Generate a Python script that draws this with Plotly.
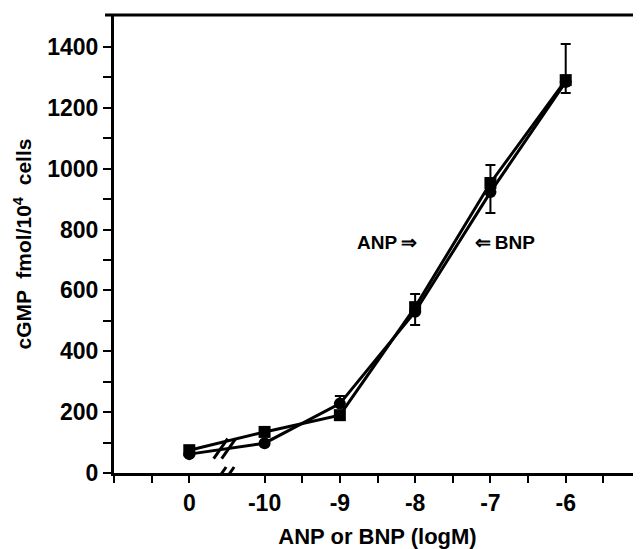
import plotly.graph_objects as go

# positions on the broken axis: 1 -> "0" (no peptide), 2..6 -> -10..-6 logM
x_pos = [1, 2, 3, 4, 5, 6]
tick_labels = ["0", "-10", "-9", "-8", "-7", "-6"]

anp_vals = [75, 135, 190, 545, 953, 1291]
anp_err_plus = [0, 0, 0, 43, 59, 119]
anp_err_minus = [0, 0, 0, 0, 0, 0]

bnp_vals = [62, 98, 228, 530, 923, 1285]
bnp_err_plus = [0, 0, 25, 0, 0, 0]
bnp_err_minus = [0, 0, 0, 44, 69, 36]

FONT = "Liberation Sans"

fig = go.Figure()
fig.add_trace(go.Scatter(
    x=x_pos, y=anp_vals, mode="lines+markers", name="ANP",
    line=dict(color="black", width=3),
    marker=dict(symbol="square", size=12, color="black"),
    error_y=dict(type="data", symmetric=False, array=anp_err_plus,
                 arrayminus=anp_err_minus, color="black", thickness=2, width=5),
))
fig.add_trace(go.Scatter(
    x=x_pos, y=bnp_vals, mode="lines+markers", name="BNP",
    line=dict(color="black", width=3),
    marker=dict(symbol="circle", size=12, color="black"),
    error_y=dict(type="data", symmetric=False, array=bnp_err_plus,
                 arrayminus=bnp_err_minus, color="black", thickness=2, width=5),
))

# axis-break marks (//) on the x axis and on the data lines
for (bx, by, oy) in [(1.45, 0, -4), (1.47, 80, 0)]:
    for dx in (-4, 4):
        fig.add_shape(type="line", xref="x", yref="y", xsizemode="pixel", ysizemode="pixel",
                      xanchor=bx, yanchor=by, x0=dx - 7, x1=dx + 7, y0=oy - 10, y1=oy + 10,
                      line=dict(color="black", width=3))

# top frame line
fig.add_shape(type="line", xref="paper", yref="paper", x0=-0.017, x1=1, y0=1, y1=1,
              line=dict(color="black", width=3))

fig.add_annotation(x=3.63, y=756, xref="x", yref="y", text="ANP\u2009⇒", showarrow=False,
                   font=dict(family=FONT, size=19, color="black", weight="bold"))
fig.add_annotation(x=5.19, y=756, xref="x", yref="y", text="⇐\u2009BNP", showarrow=False,
                   font=dict(family=FONT, size=19, color="black", weight="bold"))

# page body has an 8px margin: figure is 633x541 so the plot lands as in the reference
fig.update_layout(
    width=633, height=541,
    margin=dict(l=106, r=0, t=7, b=76, autoexpand=False),
    paper_bgcolor="white", plot_bgcolor="white",
    showlegend=False,
    font=dict(family=FONT, color="black"),
    xaxis=dict(
        range=[0, 7], tickmode="array", tickvals=x_pos, ticktext=tick_labels,
        automargin=False,
        showline=True, linecolor="black", linewidth=3,
        ticks="outside", ticklen=7, tickwidth=2, tickcolor="black",
        minor=dict(tickmode="array", tickvals=[0, 0.5, 2.5, 3.5, 4.5, 5.5, 6.5],
                   ticks="outside", ticklen=7, tickwidth=2, tickcolor="black"),
        showgrid=False, zeroline=False,
        tickfont=dict(family=FONT, size=23, color="black", weight="bold"),
        title=dict(text="ANP or BNP (logM)", standoff=16,
                   font=dict(family=FONT, size=22, color="black", weight="bold")),
    ),
    yaxis=dict(
        range=[0, 1505], tickmode="array", tickvals=[0, 200, 400, 600, 800, 1000, 1200, 1400],
        automargin=False,
        showline=True, linecolor="black", linewidth=3,
        ticks="outside", ticklen=8, tickwidth=2, tickcolor="black",
        minor=dict(tickmode="array", tickvals=[100, 300, 500, 700, 900, 1100, 1300],
                   ticks="outside", ticklen=8, tickwidth=2, tickcolor="black"),
        showgrid=False, zeroline=False,
        tickfont=dict(family=FONT, size=23, color="black", weight="bold"),
        title=dict(text="cGMP  fmol/10<sup>4</sup>  cells", standoff=10,
                   font=dict(family=FONT, size=21, color="black", weight="bold")),
    ),
)

fig.write_html("out.html")
